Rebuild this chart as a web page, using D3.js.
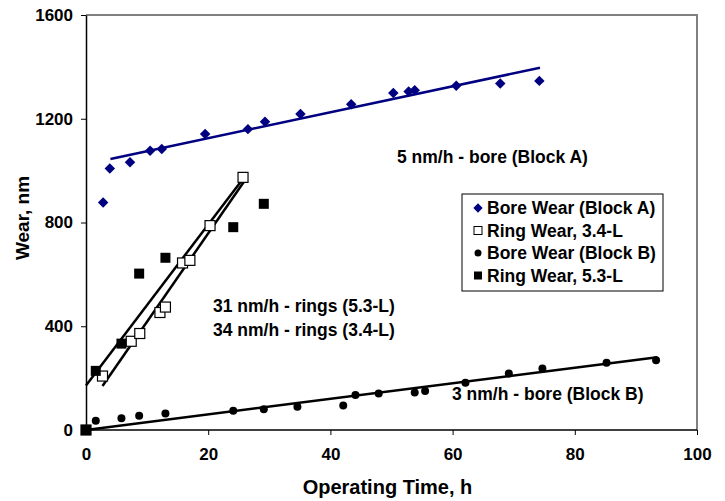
<!DOCTYPE html>
<html>
<head>
<meta charset="utf-8">
<script src="https://cdn.jsdelivr.net/npm/d3@7"></script>
<style>
  html, body { margin: 0; padding: 0; background: #fff; }
  svg { display: block; font-family: Arial, "Liberation Sans", sans-serif; font-weight: bold; }
</style>
</head>
<body>
<svg id="chart" width="725" height="501"></svg>
<script>
// Bore wear, Block A (h, nm)
const boreA_t = [0, 2.8, 3.9, 7.2, 10.5, 12.4, 19.5, 26.5, 29.3, 35.1, 43.4, 50.3, 52.8, 53.8, 60.6, 67.8, 74.2];
const boreA_w = [0, 877, 1008, 1032, 1077, 1083, 1141, 1160, 1188, 1218, 1256, 1299, 1305, 1310, 1327, 1336, 1346];

// Ring wear, 3.4-L
const ring34_t = [0, 2.7, 7.4, 8.8, 12.1, 13.0, 15.8, 17.0, 20.3, 25.7];
const ring34_w = [0, 208, 342, 372, 453, 474, 644, 654, 788, 974];

// Bore wear, Block B
const boreB_t = [0, 1.6, 5.8, 8.7, 13.0, 24.1, 29.1, 34.6, 42.1, 44.1, 47.9, 53.8, 55.5, 62.1, 69.2, 74.7, 85.2, 93.3];
const boreB_w = [0, 36, 45, 55, 64, 74, 80, 90, 94, 135, 141, 145, 150, 182, 218, 237, 259, 269];

// Ring wear, 5.3-L
const ring53_t = [0, 1.6, 5.8, 8.7, 13.0, 24.1, 29.1];
const ring53_w = [0, 228, 333, 603, 664, 782, 872];

// Linear wear-rate fits: [slope nm/h, intercept nm, start h, end h]
const fitBoreA = [5, 1025, 4, 74.3];
const fitRing53 = [31, 172, 0, 25.8];
const fitRing34 = [34, 78, 2.7, 26.3];
const fitBoreB = [3, 0, 0, 93.5];

const xTicks = [0, 20, 40, 60, 80, 100];
const yTicks = [0, 400, 800, 1200, 1600];

const legendLabels = ["Bore Wear (Block A)", "Ring Wear, 3.4-L", "Bore Wear (Block B)", "Ring Wear, 5.3-L"];
const rateLabels = ["5 nm/h - bore (Block A)", "31 nm/h - rings (5.3-L)", "34 nm/h - rings (3.4-L)", "3 nm/h - bore (Block B)"];

const svg = d3.select("#chart");
const L = 86, R = 697, T = 15, B = 430;

const x = d3.scaleLinear().domain([0, 100]).range([L, R]);
const y = d3.scaleLinear().domain([0, 1600]).range([B, T]);

// plot frame (top and right edges)
svg.append("path")
  .attr("d", `M${L},${T}H${R}V${B}`)
  .attr("fill", "none").attr("stroke", "#808080").attr("stroke-width", 2);

// axes
const xAxis = svg.append("g").attr("transform", `translate(0,${B})`)
  .call(d3.axisBottom(x).tickValues(xTicks).tickFormat(d3.format("d")).tickSize(5).tickPadding(13).tickSizeOuter(0));
const yAxis = svg.append("g").attr("transform", `translate(${L},0)`)
  .call(d3.axisLeft(y).tickValues(yTicks).tickFormat(d3.format("d")).tickSize(5).tickPadding(8).tickSizeOuter(0));
[xAxis, yAxis].forEach(g => {
  g.select(".domain").attr("stroke", "#000").attr("stroke-width", 1.5);
  g.selectAll(".tick line").attr("stroke", "#000").attr("stroke-width", 1);
  g.selectAll(".tick text").attr("fill", "#000")
    .style("font-size", "17px").style("font-weight", "bold")
    .style("font-family", "Arial, 'Liberation Sans', sans-serif");
});
xAxis.select(".domain").attr("d", `M${L},0H${R}`);
xAxis.selectAll(".tick text").attr("dy", "0.68em");

// axis titles
svg.append("text").attr("x", (L + R) / 2 - 4).attr("y", 494)
  .attr("text-anchor", "middle").style("font-size", "20px").text("Operating Time, h");
svg.append("text").attr("transform", `translate(29,218) rotate(-90)`)
  .attr("text-anchor", "middle").style("font-size", "19px").text("Wear, nm");

// fit lines
function fitLine(f, color) {
  const [m, b, t0, t1] = f;
  svg.append("line")
    .attr("x1", x(t0)).attr("y1", y(m * t0 + b))
    .attr("x2", x(t1)).attr("y2", y(m * t1 + b))
    .attr("stroke", color).attr("stroke-width", 2.5);
}
fitLine(fitBoreA, "#000080");
fitLine(fitRing53, "#000");
fitLine(fitRing34, "#000");
fitLine(fitBoreB, "#000");

// marker symbols
const diamond = d3.symbol().type(d3.symbolDiamond2).size(70);
function drawSeries(ts, ws, kind) {
  const pts = ts.map((t, i) => [t, ws[i]]);
  const g = svg.append("g");
  pts.forEach(([t, w]) => {
    const cx = x(t), cy = y(w);
    if (kind === "diamond") {
      g.append("path").attr("d", diamond()).attr("transform", `translate(${cx},${cy})`).attr("fill", "#000080");
    } else if (kind === "open") {
      g.append("rect").attr("x", cx - 5).attr("y", cy - 5).attr("width", 10).attr("height", 10)
        .attr("fill", "#fff").attr("stroke", "#000").attr("stroke-width", 1.2);
    } else if (kind === "circle") {
      g.append("circle").attr("cx", cx).attr("cy", cy).attr("r", 4).attr("fill", "#000");
    } else {
      g.append("rect").attr("x", cx - 5).attr("y", cy - 5).attr("width", 10).attr("height", 10).attr("fill", "#000");
    }
  });
}
drawSeries(boreA_t, boreA_w, "diamond");
drawSeries(ring34_t, ring34_w, "open");
drawSeries(boreB_t, boreB_w, "circle");
drawSeries(ring53_t, ring53_w, "filled");

// wear-rate annotations
const ann = [
  [397, 163, rateLabels[0]],
  [213, 312, rateLabels[1]],
  [213, 336, rateLabels[2]],
  [452, 400, rateLabels[3]]
];
ann.forEach(([ax, ay, s]) => {
  svg.append("text").attr("x", ax).attr("y", ay).style("font-size", "17.5px").attr("fill", "#000").text(s);
});

// legend
const lg = svg.append("g");
lg.append("rect").attr("x", 462).attr("y", 194).attr("width", 201).attr("height", 97)
  .attr("fill", "#fff").attr("stroke", "#000").attr("stroke-width", 1);
const kinds = ["diamond", "open", "circle", "filled"];
legendLabels.forEach((lab, i) => {
  const cy = 208 + i * 22.5, cx = 478;
  const k = kinds[i];
  if (k === "diamond") {
    lg.append("path").attr("d", d3.symbol().type(d3.symbolDiamond2).size(55)()).attr("transform", `translate(${cx},${cy})`).attr("fill", "#000080");
  } else if (k === "open") {
    lg.append("rect").attr("x", cx - 4).attr("y", cy - 4).attr("width", 8).attr("height", 8)
      .attr("fill", "#fff").attr("stroke", "#000").attr("stroke-width", 1);
  } else if (k === "circle") {
    lg.append("circle").attr("cx", cx).attr("cy", cy).attr("r", 3.5).attr("fill", "#000");
  } else {
    lg.append("rect").attr("x", cx - 4).attr("y", cy - 4).attr("width", 8).attr("height", 8).attr("fill", "#000");
  }
  lg.append("text").attr("x", 487).attr("y", cy + 6).style("font-size", "17.5px").attr("fill", "#000").text(lab);
});
</script>
</body>
</html>
